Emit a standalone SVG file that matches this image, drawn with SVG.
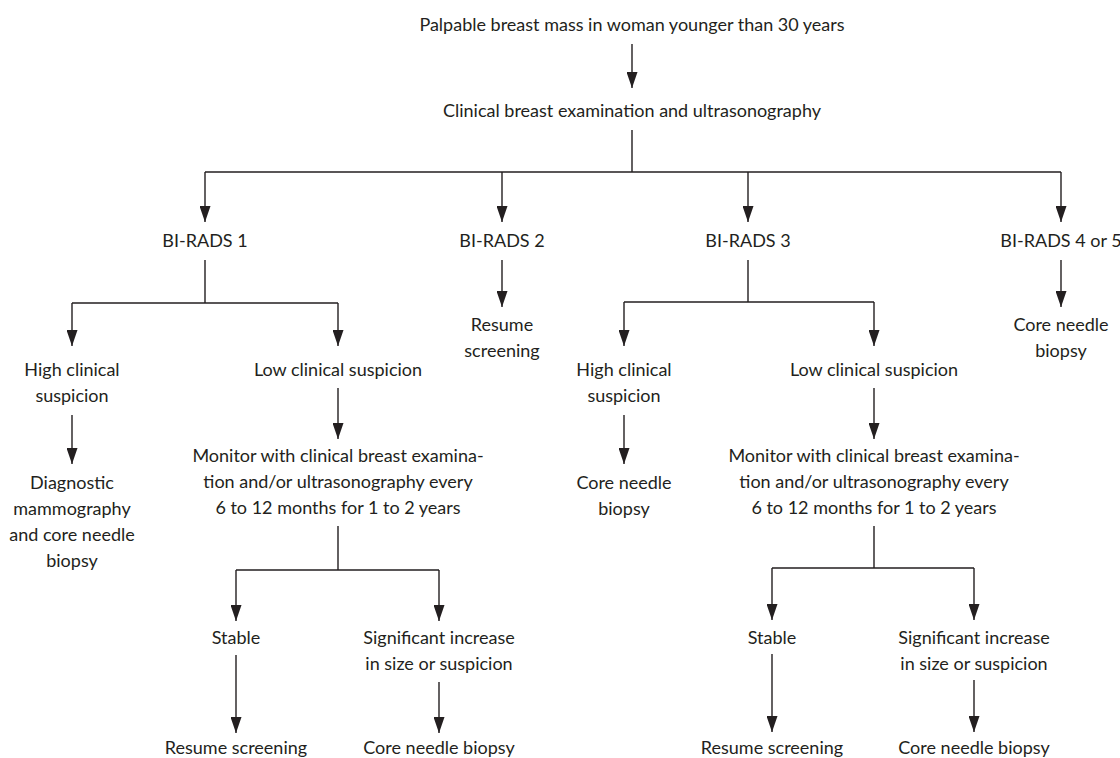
<svg xmlns="http://www.w3.org/2000/svg" width="1120" height="758" viewBox="0 0 1120 758">
<defs>
<marker id="ah" markerUnits="userSpaceOnUse" markerWidth="16" markerHeight="11" refX="16" refY="5.5" orient="auto">
<path d="M0,0 L16,5.5 L0,11 z" fill="#231f20"/>
</marker>
<style>
.t{font-family:Lato,"Open Sans","Liberation Sans",sans-serif;font-size:18px;fill:#231f20;text-anchor:middle;}
.c{fill:none;stroke:#231f20;stroke-width:1.4;}
.a{marker-end:url(#ah);}
</style>
</defs>
<rect width="1120" height="758" fill="#ffffff"/>
<g id="connectors">
<path class="c a" d="M632,44 V88"/>
<path class="c" d="M632,130 V172 M205,172 H1061"/>
<path class="c a" d="M205,172 V222"/>
<path class="c a" d="M502,172 V222"/>
<path class="c a" d="M748,172 V222"/>
<path class="c a" d="M1061,172 V222"/>
<path class="c" d="M205,260 V303 M72,303 H338"/>
<path class="c a" d="M72,303 V346"/>
<path class="c a" d="M338,303 V346"/>
<path class="c a" d="M502,260 V307"/>
<path class="c a" d="M1061,260 V307"/>
<path class="c" d="M748,260 V302 M624,302 H874"/>
<path class="c a" d="M624,302 V346"/>
<path class="c a" d="M874,302 V346"/>
<path class="c a" d="M72,415 V464"/>
<path class="c a" d="M338,388 V439"/>
<path class="c a" d="M624,415 V464"/>
<path class="c a" d="M874,388 V439"/>
<path class="c" d="M338,526 V570 M236,570 H439"/>
<path class="c a" d="M236,570 V621"/>
<path class="c a" d="M439,570 V621"/>
<path class="c" d="M874,526 V568 M772,568 H974"/>
<path class="c a" d="M772,568 V620"/>
<path class="c a" d="M974,568 V620"/>
<path class="c a" d="M236,655 V733"/>
<path class="c a" d="M439,682 V733"/>
<path class="c a" d="M772,654 V732"/>
<path class="c a" d="M974,680 V732"/>
</g>
<g id="n-start"><text class="t" x="632" y="31">Palpable breast mass in woman younger than 30 years</text></g>
<g id="n-exam"><text class="t" x="632" y="117">Clinical breast examination and ultrasonography</text></g>
<g id="n-br1"><text class="t" x="205" y="247">BI-RADS 1</text></g>
<g id="n-br2"><text class="t" x="502" y="247">BI-RADS 2</text></g>
<g id="n-br3"><text class="t" x="748" y="247">BI-RADS 3</text></g>
<g id="n-br45"><text class="t" x="1061" y="247">BI-RADS 4 or 5</text></g>
<g id="n-br2-resume"><text class="t" x="502" y="331">Resume</text><text class="t" x="502" y="357">screening</text></g>
<g id="n-br45-core"><text class="t" x="1061" y="331">Core needle</text><text class="t" x="1061" y="357">biopsy</text></g>
<g id="n-br1-high"><text class="t" x="72" y="376">High clinical</text><text class="t" x="72" y="402">suspicion</text></g>
<g id="n-br1-low"><text class="t" x="338" y="376">Low clinical suspicion</text></g>
<g id="n-br1-diag"><text class="t" x="72" y="489">Diagnostic</text><text class="t" x="72" y="515">mammography</text><text class="t" x="72" y="541">and core needle</text><text class="t" x="72" y="567">biopsy</text></g>
<g id="n-br1-monitor"><text class="t" x="338" y="462">Monitor with clinical breast examina-</text><text class="t" x="338" y="488">tion and/or ultrasonography every</text><text class="t" x="338" y="514">6 to 12 months for 1 to 2 years</text></g>
<g id="n-br3-high"><text class="t" x="624" y="376">High clinical</text><text class="t" x="624" y="402">suspicion</text></g>
<g id="n-br3-low"><text class="t" x="874" y="376">Low clinical suspicion</text></g>
<g id="n-br3-core"><text class="t" x="624" y="489">Core needle</text><text class="t" x="624" y="515">biopsy</text></g>
<g id="n-br3-monitor"><text class="t" x="874" y="462">Monitor with clinical breast examina-</text><text class="t" x="874" y="488">tion and/or ultrasonography every</text><text class="t" x="874" y="514">6 to 12 months for 1 to 2 years</text></g>
<g id="n-br1-stable"><text class="t" x="236" y="644">Stable</text></g>
<g id="n-br1-sig"><text class="t" x="439" y="644">Significant increase</text><text class="t" x="439" y="670">in size or suspicion</text></g>
<g id="n-br1-resume"><text class="t" x="236" y="754">Resume screening</text></g>
<g id="n-br1-core"><text class="t" x="439" y="754">Core needle biopsy</text></g>
<g id="n-br3-stable"><text class="t" x="772" y="644">Stable</text></g>
<g id="n-br3-sig"><text class="t" x="974" y="644">Significant increase</text><text class="t" x="974" y="670">in size or suspicion</text></g>
<g id="n-br3-resume"><text class="t" x="772" y="754">Resume screening</text></g>
<g id="n-br3-core"><text class="t" x="974" y="754">Core needle biopsy</text></g>
</svg>
